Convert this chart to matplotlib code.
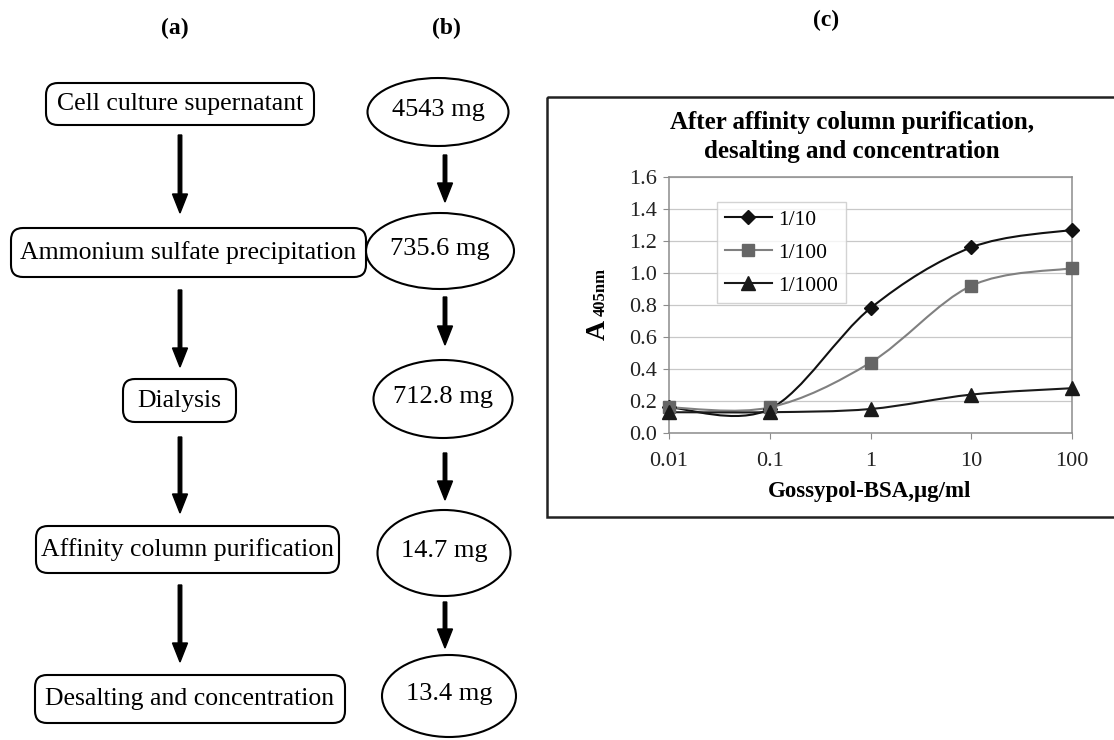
import numpy as np
import matplotlib.pyplot as plt
from matplotlib.patches import FancyBboxPatch, Ellipse, Rectangle, PathPatch, FancyArrow
from matplotlib.path import Path
from matplotlib.lines import Line2D

plt.rcParams['font.family'] = ['Liberation Serif', 'DejaVu Serif']

# ---- data ----
conc = [0.01, 0.1, 1, 10, 100]
a_1_10 = [0.16, 0.15, 0.78, 1.16, 1.27]
a_1_100 = [0.16, 0.16, 0.44, 0.92, 1.03]
a_1_1000 = [0.13, 0.13, 0.15, 0.24, 0.28]
series_labels = ['1/10', '1/100', '1/1000']

steps = ['Cell culture supernatant', 'Ammonium sulfate precipitation',
         'Dialysis', 'Affinity column purification', 'Desalting and concentration']
amounts = ['4543 mg', '735.6 mg', '712.8 mg', '14.7 mg', '13.4 mg']

W, H = 1114, 740
fig = plt.figure(figsize=(W / 100, H / 100), dpi=100)

# ---- flowchart (pixel coords) ----
ax0 = fig.add_axes([0, 0, 1, 1])
ax0.set_xlim(0, W)
ax0.set_ylim(H, 0)
ax0.axis('off')

ax0.text(175, 28, '(a)', ha='center', va='center', fontsize=17, fontweight='bold')
ax0.text(446, 28, '(b)', ha='center', va='center', fontsize=17, fontweight='bold')
ax0.text(826, 20, '(c)', ha='center', va='center', fontsize=17, fontweight='bold')

# boxes: x0, x1, y0, y1
box_pos = [(46, 314, 83, 125), (11, 366, 228, 277), (123, 236, 379, 422),
           (36, 339, 526, 573), (35, 345, 675, 723)]
ell_pos = [(438, 112, 141, 68), (440, 251, 148, 76), (443, 399, 139, 78),
           (444, 553, 133, 86), (449, 696, 134, 82)]
arr_a = [(135, 213), (290, 367), (437, 513), (585, 662)]
arr_b = [(155, 202), (297, 345), (453, 500), (602, 648)]

r = 12
for (x0, x1, y0, y1), s in zip(box_pos, steps):
    ax0.add_patch(FancyBboxPatch((x0 + r, y0 + r), x1 - x0 - 2 * r, y1 - y0 - 2 * r,
                                 boxstyle=f'round,pad={r}', fc='white', ec='black', lw=1.5))
    ax0.text((x0 + x1) / 2, (y0 + y1) / 2, s, ha='center', va='center', fontsize=18.5)

for (cx, cy, w, h), s in zip(ell_pos, amounts):
    ax0.add_patch(Ellipse((cx, cy), w, h, fill=False, ec='black', lw=1.5))
    ax0.text(cx, cy - 2, s, ha='center', va='center', fontsize=19)

for y0, y1 in arr_a:
    ax0.add_patch(FancyArrow(180, y0, 0, y1 - y0, width=3.5, head_width=15, head_length=19,
                             length_includes_head=True, color='black'))
for y0, y1 in arr_b:
    ax0.add_patch(FancyArrow(445, y0, 0, y1 - y0, width=3.5, head_width=15, head_length=19,
                             length_includes_head=True, color='black'))

# chart frame
ax0.add_patch(Rectangle((547, 97), 700, 420, fill=False, ec='#222222', lw=1.8))

# ---- chart (c) ----
ax = fig.add_axes([669 / W, 1 - 433 / H, 403 / W, 256 / H])
ax.set_facecolor('none')
ax.set_xscale('log')
ax.set_xlim(0.01, 100)
ax.set_ylim(0, 1.6)
ax.set_yticks(np.arange(0, 1.61, 0.2))
ax.set_yticklabels([f'{v:.1f}' for v in np.arange(0, 1.61, 0.2)])
ax.set_xticks(conc)
ax.set_xticklabels(['0.01', '0.1', '1', '10', '100'])
ax.minorticks_off()
ax.grid(axis='y', color='#c8c8c8', lw=0.9)
ax.set_axisbelow(True)
for sp in ax.spines.values():
    sp.set_color('#8c8c8c')
    sp.set_linewidth(1.1)
ax.tick_params(axis='both', colors='#8c8c8c', labelcolor='#222222', labelsize=16, length=4)
ax.tick_params(axis='x', pad=10)
ax.tick_params(axis='y', pad=5)


def smooth_path(xs, ys):
    # Excel-style smoothed line: cubic Bezier through the points in log-x space
    lx = np.log10(xs)
    ys = np.asarray(ys, float)
    n = len(lx)
    verts = [(xs[0], ys[0])]
    codes = [Path.MOVETO]
    for i in range(n - 1):
        p0 = max(i - 1, 0)
        p3 = min(i + 2, n - 1)
        c1x = lx[i] + (lx[i + 1] - lx[p0]) / 6
        c1y = ys[i] + (ys[i + 1] - ys[p0]) / 6
        c2x = lx[i + 1] - (lx[p3] - lx[i]) / 6
        c2y = ys[i + 1] - (ys[p3] - ys[i]) / 6
        verts += [(10 ** c1x, c1y), (10 ** c2x, c2y), (xs[i + 1], ys[i + 1])]
        codes += [Path.CURVE4] * 3
    return Path(verts, codes)


styles = [
    dict(color='#111111', marker='D', ms=7, mfc='#111111', mec='#111111'),
    dict(color='#808080', marker='s', ms=8, mfc='#666666', mec='#666666'),
    dict(color='#1a1a1a', marker='^', ms=10, mfc='#1a1a1a', mec='#1a1a1a'),
]
handles = []
for ys, st, lab in zip([a_1_10, a_1_100, a_1_1000], styles, series_labels):
    ax.add_patch(PathPatch(smooth_path(conc, ys), fill=False, ec=st['color'], lw=1.5, zorder=3))
    ax.plot(conc, ys, ls='none', marker=st['marker'], ms=st['ms'], mfc=st['mfc'],
            mec=st['mec'], zorder=4, clip_on=False)
    handles.append(Line2D([], [], color=st['color'], lw=1.5, marker=st['marker'], ms=st['ms'],
                          mfc=st['mfc'], mec=st['mec'], label=lab))

leg = fig.legend(handles=handles, loc='upper left', bbox_to_anchor=(717 / W, 1 - 202 / H),
                 frameon=True, fancybox=False, edgecolor='#c8c8c8', fontsize=15.5,
                 handlelength=2.2, labelspacing=0.6, borderaxespad=0, borderpad=0.35,
                 handletextpad=0.3)
leg.get_frame().set_linewidth(1.0)

fig.text(852 / W, 1 - 137 / H, 'After affinity column purification,\ndesalting and concentration',
         ha='center', va='center', fontsize=18, fontweight='bold', linespacing=1.32)
fig.text(870 / W, 1 - 492 / H, 'Gossypol-BSA,\u03bcg/ml', ha='center', va='center',
         fontsize=16.5, fontweight='bold')
fig.text(598 / W, 1 - 330 / H, 'A', ha='center', va='center', rotation=90,
         fontsize=20, fontweight='bold')
fig.text(601 / W, 1 - 292 / H, '405nm', ha='center', va='center', rotation=90,
         fontsize=12, fontweight='bold')

fig.savefig('out.png', dpi=100)
